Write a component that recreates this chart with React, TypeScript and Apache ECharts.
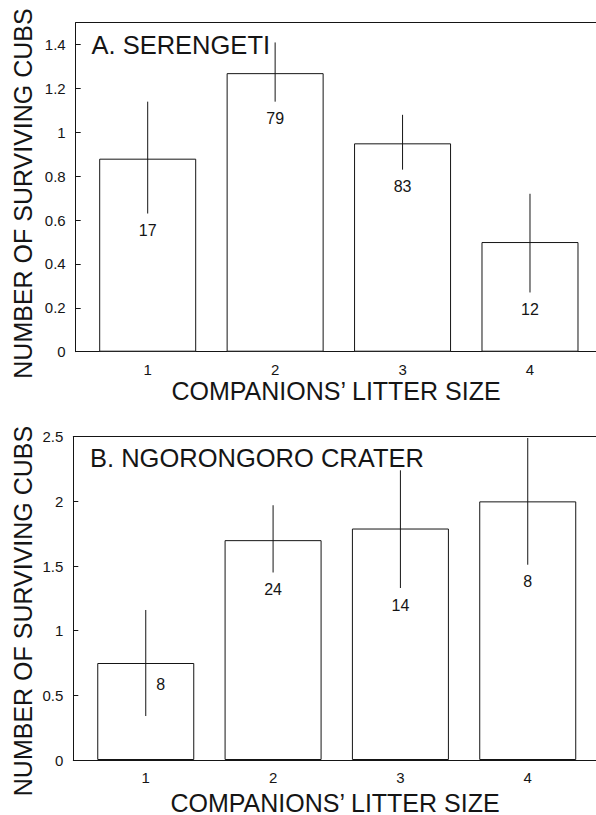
import React, { useEffect, useRef } from "react";
import * as echarts from "echarts";

const categories = [1, 2, 3, 4];
const categoryLabels = ["1", "2", "3", "4"];

const serengetiMeans = [0.88, 1.27, 0.95, 0.5];
const serengetiLower = [0.63, 1.14, 0.83, 0.27];
const serengetiUpper = [1.14, 1.41, 1.08, 0.72];
const serengetiN = [17, 79, 83, 12];

const ngorongoroMeans = [0.75, 1.7, 1.79, 2.0];
const ngorongoroLower = [0.34, 1.45, 1.33, 1.51];
const ngorongoroUpper = [1.16, 1.97, 2.24, 2.49];
const ngorongoroN = [8, 24, 14, 8];

const serengetiYMax = 1.5;
const serengetiYInterval = 0.2;
const ngorongoroYMax = 2.5;
const ngorongoroYInterval = 0.5;

const serengetiLabelPlacement = ["below", "below", "below", "below"];
const ngorongoroLabelPlacement = ["beside", "below", "below", "below"];

const FONT = '"Liberation Sans", Arial, Helvetica, sans-serif';
const INK = "#151515";

function buildPanel(
  gridIndex: number,
  means: number[],
  lower: number[],
  upper: number[],
  counts: number[],
  placement: string[]
) {
  const barSeries = {
    type: "bar",
    xAxisIndex: gridIndex * 2,
    yAxisIndex: gridIndex,
    barWidth: 97,
    data: categories.map((c, i) => [c, means[i]]),
    itemStyle: { color: "#ffffff", borderColor: INK, borderWidth: 1 },
    z: 2,
  };
  const errSeries = {
    type: "custom",
    xAxisIndex: gridIndex * 2,
    yAxisIndex: gridIndex,
    clip: true,
    z: 4,
    data: categories.map((c, i) => [c, lower[i], upper[i]]),
    encode: { x: 0, y: [1, 2] },
    renderItem: (params: any, api: any) => {
      const x = api.value(0);
      const p1 = api.coord([x, api.value(2)]);
      const p2 = api.coord([x, api.value(1)]);
      return {
        type: "line",
        shape: { x1: p1[0], y1: p1[1], x2: p2[0], y2: p2[1] },
        style: { stroke: INK, lineWidth: 1 },
      };
    },
  };
  const labelSeries = {
    type: "custom",
    xAxisIndex: gridIndex * 2,
    yAxisIndex: gridIndex,
    z: 5,
    data: categories.map((c, i) => [c, lower[i], means[i], counts[i], i]),
    encode: { x: 0, y: 1 },
    renderItem: (params: any, api: any) => {
      const x = api.value(0);
      const idx = api.value(4);
      const mode = placement[idx];
      let px: number, py: number;
      if (mode === "beside") {
        const p = api.coord([x, api.value(2)]);
        px = p[0] + 15;
        py = p[1] + 21;
      } else {
        const p = api.coord([x, api.value(1)]);
        px = p[0];
        py = p[1] + 17;
      }
      return {
        type: "text",
        x: px,
        y: py,
        style: {
          text: String(api.value(3)),
          font: `16px ${FONT}`,
          fill: INK,
          align: "center",
          verticalAlign: "middle",
        },
      };
    },
  };
  return [barSeries, errSeries, labelSeries];
}

function xAxes(gridIndex: number, min: number, max: number) {
  return [
    {
      type: "value",
      gridIndex,
      min,
      max,
      position: "bottom",
      axisLine: { show: true, lineStyle: { color: INK, width: 1 } },
      axisTick: {
        show: true,
        inside: true,
        length: 6,
        customValues: categories,
        lineStyle: { color: INK, width: 1 },
      },
      axisLabel: {
        show: true,
        customValues: categories,
        formatter: (v: number) => categoryLabels[categories.indexOf(v)] ?? String(v),
        color: INK,
        fontSize: 15,
        fontFamily: FONT,
        margin: 10,
      },
      splitLine: { show: false },
    },
    {
      type: "value",
      gridIndex,
      min,
      max,
      position: "top",
      axisLine: { show: true, lineStyle: { color: INK, width: 1 } },
      axisTick: { show: false },
      axisLabel: { show: false },
      splitLine: { show: false },
    },
  ];
}

function yAxis(gridIndex: number, max: number, interval: number, hideMax: boolean) {
  return {
    type: "value",
    gridIndex,
    min: 0,
    max,
    interval,
    axisLine: { show: true, lineStyle: { color: INK, width: 1 } },
    axisTick: { show: true, inside: true, length: 5, lineStyle: { color: INK, width: 1 } },
    axisLabel: {
      color: INK,
      fontSize: 15,
      fontFamily: FONT,
      margin: 10,
      showMaxLabel: !hideMax,
    },
    splitLine: { show: false },
  };
}

export default function App() {
  const ref = useRef<HTMLDivElement>(null);
  useEffect(() => {
    if (!ref.current) return;
    const chart = echarts.init(ref.current, undefined, { renderer: "svg" });
    const textStyle = (size: number) => ({ font: `${size}px ${FONT}`, fill: INK });
    chart.setOption({
      animation: false,
      backgroundColor: "#ffffff",
      grid: [
        { left: 75.7, top: 22.7, width: 520.3, height: 329 },
        { left: 73.3, top: 436.7, width: 522.7, height: 323.3 },
      ],
      xAxis: [...xAxes(0, 0.435, 4.518), ...xAxes(1, 0.431, 4.536)],
      yAxis: [
        yAxis(0, serengetiYMax, serengetiYInterval, true),
        yAxis(1, ngorongoroYMax, ngorongoroYInterval, false),
      ],
      series: [
        ...buildPanel(0, serengetiMeans, serengetiLower, serengetiUpper, serengetiN, serengetiLabelPlacement),
        ...buildPanel(1, ngorongoroMeans, ngorongoroLower, ngorongoroUpper, ngorongoroN, ngorongoroLabelPlacement),
      ],
      graphic: [
        {
          type: "text",
          x: 91.5,
          y: 44.5,
          style: { ...textStyle(25.5), text: "A. SERENGETI", align: "left", verticalAlign: "middle" },
        },
        {
          type: "text",
          x: 90,
          y: 457.5,
          style: { ...textStyle(25.5), text: "B. NGORONGORO CRATER", align: "left", verticalAlign: "middle" },
        },
        {
          type: "text",
          x: 336,
          y: 391,
          style: { ...textStyle(25), text: "COMPANIONS\u2019 LITTER SIZE", align: "center", verticalAlign: "middle" },
        },
        {
          type: "text",
          x: 335,
          y: 802.5,
          style: { ...textStyle(25), text: "COMPANIONS\u2019 LITTER SIZE", align: "center", verticalAlign: "middle" },
        },
        {
          type: "text",
          x: 23,
          y: 193.5,
          rotation: Math.PI / 2,
          style: { ...textStyle(25), text: "NUMBER OF SURVIVING CUBS", align: "center", verticalAlign: "middle" },
        },
        {
          type: "text",
          x: 22.5,
          y: 611,
          rotation: Math.PI / 2,
          style: { ...textStyle(25), text: "NUMBER OF SURVIVING CUBS", align: "center", verticalAlign: "middle" },
        },
      ],
    });
    return () => chart.dispose();
  }, []);
  return (
    <div
      ref={ref}
      style={{ position: "fixed", left: 0, top: 0, width: 596, height: 815, background: "#fff" }}
    />
  );
}
